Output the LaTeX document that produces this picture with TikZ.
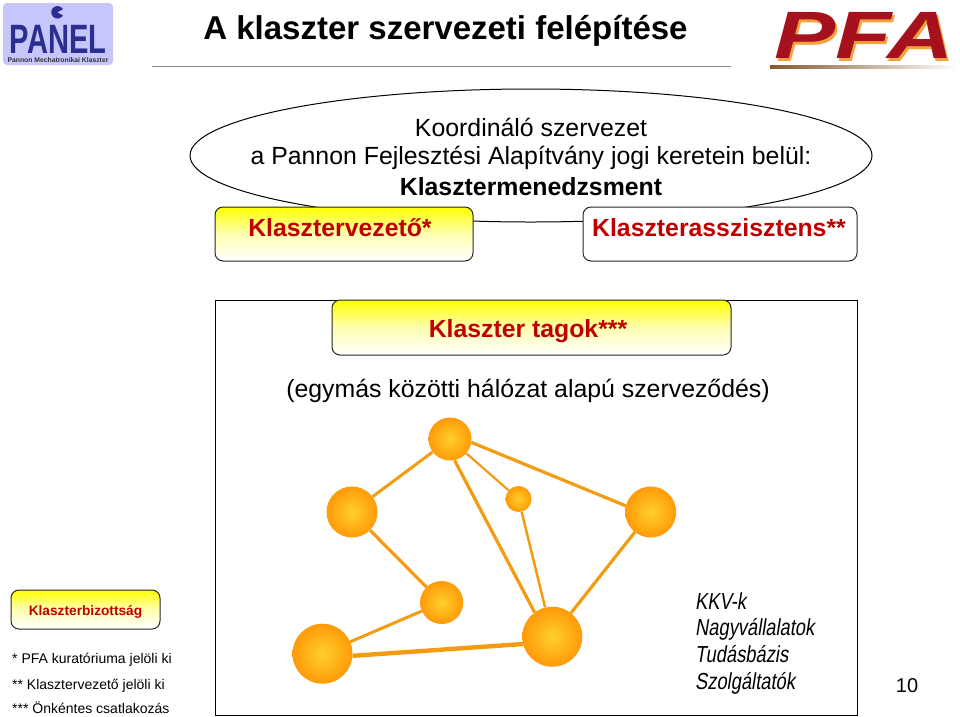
\documentclass[tikz,border=0pt]{standalone}
\usepackage{fontspec}
\setmainfont{Liberation Sans}
\newfontfamily\slfont[FakeSlant=0.2]{Liberation Sans}
\usetikzlibrary{shapes.geometric}
\definecolor{dred}{HTML}{C00000}
\definecolor{orline}{HTML}{F39C12}
\definecolor{panelblue}{HTML}{2A2F8F}
\definecolor{panelbg}{HTML}{C6C6FA}
\definecolor{pfared}{HTML}{A5121E}
\definecolor{pfaor}{HTML}{F2A33C}
\definecolor{ballin}{HTML}{FFD02A}
\definecolor{ballout}{HTML}{FF9A08}
\tikzset{
  x=1pt,y=-1pt,
  ybox/.style={draw=black!85,line width=1pt,rounded corners=8pt,top color=yellow,bottom color=white,middle color=yellow!30,inner sep=0pt},
  boxlabel/.style={text=dred,font=\bfseries\fontsize{24.8}{28}\selectfont,inner sep=0pt},
  plain/.style={font=\fontsize{24.85}{28}\selectfont,inner sep=0pt},
  foot/.style={font=\fontsize{14}{17}\selectfont,anchor=base west,inner sep=0pt},
  listing/.style={font=\slfont\fontsize{23.2}{27}\selectfont,anchor=base west,inner sep=0pt,xscale=0.79},
  ball/.style={circle,inner sep=0pt,shading=radial,inner color=ballin,outer color=ballout,draw=none},
  link/.style={draw=orline},
}
\begin{document}
\begin{tikzpicture}
\useasboundingbox (0,0) rectangle (960,716);
% PANEL logo
\node[draw=none,fill=panelbg,rounded corners=4pt,minimum width=110pt,minimum height=62pt,inner sep=0pt] (panelbox) at (58,34) {};
\node[circle,fill=panelblue,minimum size=12.5pt,inner sep=0pt] (paneldot) at (57.5,12.3) {};
\fill[panelbg] (paneldot.center) -- ++(6.5,-3.5) -- ++(0,7) -- cycle;
\node[text=panelblue,font=\bfseries\fontsize{41}{41}\selectfont,inner sep=0pt,xscale=0.71] (panelword) at (58,39) {PANEL};
\node[text=black!80,font=\bfseries\fontsize{6.8}{8}\selectfont,inner sep=0pt] (panelsub) at (58,59.8) {Pannon Mechatronikai Klaszter};
% title
\node[font=\bfseries\fontsize{33}{37}\selectfont,inner sep=0pt] (title) at (445.5,30.5) {A klaszter szervezeti felépítése};
\coordinate (ruleL) at (152,66);
\coordinate (ruleR) at (731,66);
\draw[black!45,line width=0.8pt] (ruleL) -- (ruleR);
% PFA logo
\node[text=pfaor,font=\bfseries\itshape\fontsize{67}{67}\selectfont,inner sep=0pt,xscale=1.37] (pfashadow) at (866,38) {PFA};
\node[text=pfared,font=\bfseries\itshape\fontsize{67}{67}\selectfont,inner sep=0pt,xscale=1.37] (pfaword) at (864,35.5) {PFA};
\shade[left color=brown!70!black,right color=white] (770,65) rectangle (958,68);
% ellipse
\node[ellipse,draw=black,line width=1pt,fill=white,minimum width=682pt,minimum height=133pt,inner sep=0pt] (coord) at (531,155.5) {};
\node[plain] (l1) at (531,127) {Koordináló szervezet};
\node[plain] (l2) at (531,158) {a Pannon Fejlesztési Alapítvány jogi keretein belül:};
\node[plain,font=\bfseries\fontsize{24.85}{28}\selectfont] (l3) at (531,187) {Klasztermenedzsment};
% top boxes
\node[ybox,minimum width=258pt,minimum height=54pt] (vez) at (344,234) {};
\node[boxlabel] (vezt) at (340,228) {Klasztervezető*};
\node[ybox,minimum width=274pt,minimum height=54pt,top color=white,bottom color=white,middle color=white] (asz) at (720,234) {};
\node[boxlabel] (aszt) at (719,228) {Klaszterasszisztens**};
% frame
\node[draw=black,line width=1pt,minimum width=642pt,minimum height=415pt,inner sep=0pt] (frame) at (536,507.5) {};
\node[ybox,minimum width=399pt,minimum height=55pt] (tag) at (531.5,327.5) {};
\node[boxlabel] (tagt) at (528,331) {Klaszter tagok***};
\node[plain] (net) at (528,391) {(egymás közötti hálózat alapú szerveződés)};
% network
\node[ball,minimum size=43pt] (n1) at (450,439) {};
\node[ball,minimum size=51pt] (n2) at (352,512) {};
\node[ball,minimum size=26pt] (n3) at (518.5,499) {};
\node[ball,minimum size=51pt] (n4) at (650.7,512) {};
\node[ball,minimum size=43pt] (n5) at (441.7,602.5) {};
\node[ball,minimum size=60pt] (n6) at (322.5,653.7) {};
\node[ball,minimum size=60pt] (n7) at (552.3,636.7) {};
\draw[link,line width=3pt] (n1) -- (n2);
\draw[link,line width=3.2pt] (n1.-9) -- (n4.166);
\draw[link,line width=3.2pt] (n1.-78) -- (n7.126);
\draw[link,line width=2.2pt] (n1) -- (n3);
\draw[link,line width=2.5pt] (n3) -- (n7);
\draw[link,line width=3.2pt] (n2) -- (n5);
\draw[link,line width=3.2pt] (n4) -- (n7);
\draw[link,line width=3pt] (n5) -- (n6);
\draw[link,line width=4.4pt] (n6.-4) -- (n7.194);
% list
\node[listing] (k1) at (695,609) {KKV-k};
\node[listing] (k2) at (695,635.5) {Nagyvállalatok};
\node[listing] (k3) at (695,662) {Tudásbázis};
\node[listing] (k4) at (695,689) {Szolgáltatók};
\node[font=\fontsize{20}{24}\selectfont,inner sep=0pt] (page) at (907,686) {10};
% bottom left
\node[ybox,minimum width=149pt,minimum height=39pt] (biz) at (85.5,609.5) {};
\node[boxlabel,font=\bfseries\fontsize{13.7}{16}\selectfont] (bizt) at (85.5,611.5) {Klaszterbizottság};
\node[foot] (f1) at (12,663) {* PFA kuratóriuma jelöli ki};
\node[foot] (f2) at (12,689) {** Klasztervezető jelöli ki};
\node[foot] (f3) at (12,713) {*** Önkéntes csatlakozás};
\end{tikzpicture}
\end{document}
